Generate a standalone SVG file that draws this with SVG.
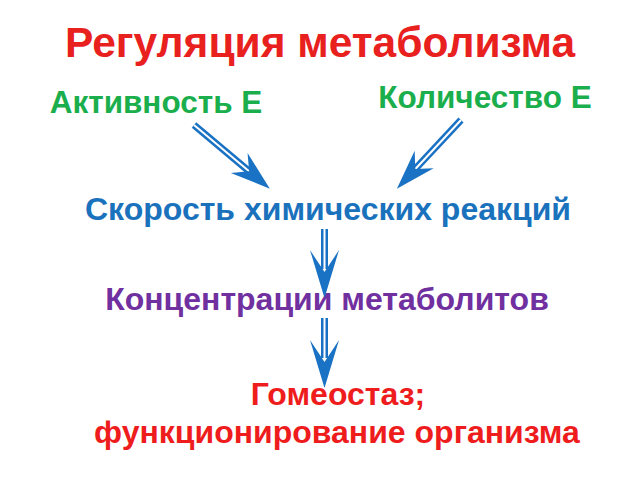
<svg xmlns="http://www.w3.org/2000/svg" width="640" height="480" viewBox="0 0 640 480">
<defs>
<style>
text{font-family:"Liberation Sans",Arial,sans-serif;font-weight:bold;text-anchor:middle}
.t{font-size:42.5px;fill:#e8201e}
.g{font-size:31.5px;fill:#1aae4c}
.b{font-size:32px;fill:#1a72bd}
.p{font-size:32px;fill:#7030a0}
.r{font-size:32px;fill:#ee1c1c}
.so{stroke:#1a72c4;stroke-width:7;fill:none}
.si{stroke:#fff;stroke-width:2;fill:none}
.h{fill:#1a72c4}
</style>
</defs>
<rect width="640" height="480" fill="#fff"/>
<g id="title"><text class="t" x="320" y="57">Регуляция метаболизма</text></g>
<g id="activity"><text class="g" x="156" y="113">Активность Е</text></g>
<g id="quantity"><text class="g" x="485" y="108">Количество Е</text></g>
<g id="rate"><text class="b" x="328" y="220">Скорость химических реакций</text></g>
<g id="conc"><text class="p" x="327" y="310">Концентрации метаболитов</text></g>
<g id="homeo"><text class="r" x="338" y="405">Гомеостаз;</text><text class="r" x="337" y="443">функционирование организма</text></g>
<g id="connectors">
<g transform="translate(194,125) rotate(-50)">
<line class="so" x1="0" y1="0" x2="0" y2="75"/><line class="si" x1="0" y1="0" x2="0" y2="75"/>
<polygon class="h" points="0,99 -13,59 0,72 13,59"/>
</g>
<g transform="translate(461,120) rotate(43)">
<line class="so" x1="0" y1="0" x2="0" y2="70"/><line class="si" x1="0" y1="0" x2="0" y2="70"/>
<polygon class="h" points="0,94 -13,54 0,67 13,54"/>
</g>
<g transform="translate(324.5,229)">
<line class="so" x1="0" y1="0" x2="0" y2="40"/><line class="si" x1="0" y1="0" x2="0" y2="40"/>
<polygon class="h" points="0,69 -14.5,21 0,43 14.5,21"/>
</g>
<g transform="translate(324.5,318)">
<line class="so" x1="0" y1="0" x2="0" y2="40"/><line class="si" x1="0" y1="0" x2="0" y2="40"/>
<polygon class="h" points="0,70 -14.5,22 0,44 14.5,22"/>
</g>
</g>
</svg>
